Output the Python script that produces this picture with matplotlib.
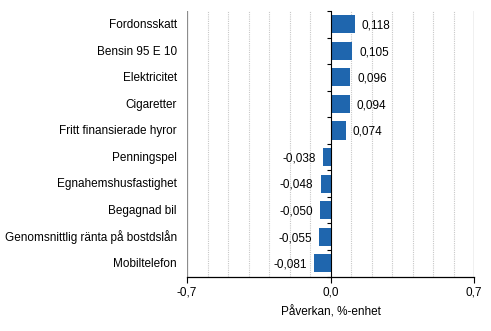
import matplotlib.pyplot as plt
import matplotlib.transforms as mtransforms
import numpy as np

plt.rcParams['font.family'] = ['Liberation Sans', 'DejaVu Sans']

categories = ['Fordonsskatt', 'Bensin 95 E 10', 'Elektricitet', 'Cigaretter',
              'Fritt finansierade hyror', 'Penningspel', 'Egnahemshusfastighet',
              'Begagnad bil', 'Genomsnittlig ränta på bostdslån', 'Mobiltelefon']
values = [0.118, 0.105, 0.096, 0.094, 0.074, -0.038, -0.048, -0.050, -0.055, -0.081]
xticks = [-0.7, 0.0, 0.7]
xticklabels = ['-0,7', '0,0', '0,7']

bar_color = '#1f66ae'
fs = 8.5

fig = plt.figure(figsize=(4.91, 3.31), dpi=100)
ax = fig.add_axes([187 / 491, 1 - 276.5 / 331, (474 - 187) / 491, (276.5 - 11) / 331])

y = np.arange(len(categories))
ax.barh(y, values, height=0.68, color=bar_color, zorder=3)
ax.set_xlim(-0.7, 0.7)
ax.set_ylim(len(categories) - 0.5, -0.5)

# vertical gridlines every 0.1, outer ones solid
for gx in np.round(np.arange(-0.6, 0.61, 0.1), 1):
    if gx == 0:
        continue
    ax.axvline(gx, color='#c8c8c8', lw=0.8, ls=(0, (1, 1)), zorder=1)
for gx in (-0.7, 0.7):
    ax.axvline(gx, color='#8c8c8c', lw=0.9, zorder=1)

for s in ('top', 'right'):
    ax.spines[s].set_visible(False)
ax.spines['left'].set_position(('data', 0))
ax.spines['left'].set_zorder(4)
ax.spines['bottom'].set_linewidth(0.9)

ax.set_yticks(np.arange(-0.5, len(categories), 1.0))
ax.set_yticklabels([])
ax.tick_params(axis='y', length=3, width=0.8, direction='out')
ax.set_xticks(xticks, xticklabels)
ax.tick_params(axis='x', length=4, width=0.8, labelsize=fs, pad=3)

trans = mtransforms.blended_transform_factory(ax.transAxes, ax.transData)
for i, name in enumerate(categories):
    ax.text(-0.035, i + 0.03, name, transform=trans, ha='right', va='center', fontsize=fs)

for i, v in enumerate(values):
    label = f'{v:.3f}'.replace('.', ',')
    if v >= 0:
        ax.text(v + 0.035, i + 0.05, label, ha='left', va='center', fontsize=fs)
    else:
        ax.text(v - 0.035, i + 0.05, label, ha='right', va='center', fontsize=fs)

ax.set_xlabel('Påverkan, %-enhet', fontsize=fs, labelpad=6)

fig.savefig('out.png', dpi=100)
